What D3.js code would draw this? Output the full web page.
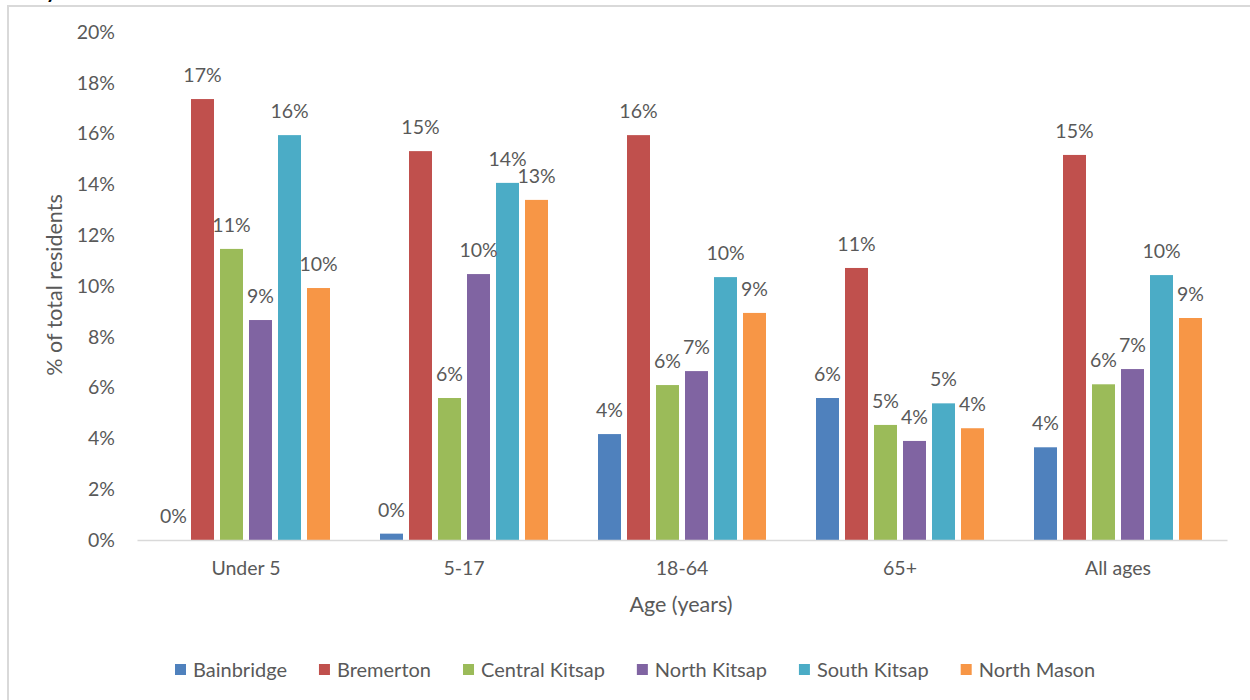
<!DOCTYPE html>
<html>
<head>
<meta charset="utf-8">
<script src="https://cdn.jsdelivr.net/npm/d3@7"></script>
<style>
  html, body { margin: 0; padding: 0; background: #fff; }
  svg { display: block; }
  text { font-family: Lato, "Open Sans", sans-serif; fill: #595959; }
</style>
</head>
<body>
<svg id="chart" width="1250" height="700"></svg>
<script>
const categories = ["Under 5", "5-17", "18-64", "65+", "All ages"];
const seriesNames = ["Bainbridge", "Bremerton", "Central Kitsap", "North Kitsap", "South Kitsap", "North Mason"];
const seriesColors = ["#4F81BD", "#C0504D", "#9BBB59", "#8064A2", "#4BACC6", "#F79646"];
// values in percent, per series, in category order
const bainbridge    = [0.0, 0.25, 4.17, 5.59, 3.65];
const bremerton     = [17.36, 15.31, 15.94, 10.71, 15.16];
const centralKitsap = [11.46, 5.59, 6.10, 4.53, 6.13];
const northKitsap   = [8.66, 10.47, 6.65, 3.90, 6.73];
const southKitsap   = [15.94, 14.06, 10.35, 5.38, 10.43];
const northMason    = [9.92, 13.39, 8.94, 4.40, 8.74];
const yTicks = [0, 2, 4, 6, 8, 10, 12, 14, 16, 18, 20];

const seriesValues = [bainbridge, bremerton, centralKitsap, northKitsap, southKitsap, northMason];

const FS = "19.5px";
const LFS = "20px";
const TFS = "21.5px";

const svg = d3.select("#chart");

// outer chart border
svg.append("rect")
  .attr("x", 8).attr("y", 6).attr("width", 1260).attr("height", 710)
  .attr("fill", "none").attr("stroke", "#d9d9d9").attr("stroke-width", 2);

// cut-off title fragment at top (as in the reference)
svg.append("text").attr("x", 46).attr("y", -2)
  .style("fill", "#000").style("font-weight", "bold").style("font-size", "20px")
  .text("y");

const x0 = d3.scaleBand().domain(categories).range([137, 1227]).padding(0);
const x1 = d3.scaleBand().domain(seriesNames).range([25, 193]).paddingInner(0.207).paddingOuter(0);
const y = d3.scaleLinear().domain([0, 20]).range([540, 32]);

// y axis labels
const yAxis = d3.axisLeft(y).tickValues(yTicks).tickFormat(d => d + "%").tickSize(0).tickPadding(0);
const yg = svg.append("g").attr("transform", "translate(115,0)").call(yAxis);
yg.select(".domain").remove();
yg.selectAll("text").style("font-size", FS).style("fill", "#595959").style("font-family", "Lato, sans-serif");

// bars
const groups = svg.append("g").selectAll("g")
  .data(categories)
  .join("g")
  .attr("transform", d => `translate(${x0(d)},0)`);

groups.selectAll("rect")
  .data((c, ci) => seriesNames.map((s, si) => ({ s, si, v: seriesValues[si][ci] })))
  .join("rect")
  .attr("x", d => x1(d.s))
  .attr("width", x1.bandwidth())
  .attr("y", d => y(d.v))
  .attr("height", d => y(0) - y(d.v))
  .attr("fill", d => seriesColors[d.si]);

groups.selectAll("text.lbl")
  .data((c, ci) => seriesNames.map((s, si) => ({ s, si, v: seriesValues[si][ci] })))
  .join("text")
  .attr("class", "lbl")
  .attr("x", d => x1(d.s) + x1.bandwidth() / 2)
  .attr("y", d => y(d.v) - 17)
  .attr("text-anchor", "middle")
  .style("font-size", FS)
  .text(d => Math.round(d.v) + "%");

// x axis
const xAxis = d3.axisBottom(x0).tickSize(0).tickPadding(0);
const xg = svg.append("g").attr("transform", "translate(0,540)").call(xAxis);
xg.select(".domain").attr("stroke", "#d9d9d9").attr("stroke-width", 1.5);
xg.selectAll("text").attr("dy", null).attr("y", 35).style("font-size", FS).style("fill", "#595959").style("font-family", "Lato, sans-serif");

// axis titles
svg.append("text")
  .attr("x", 681).attr("y", 612)
  .attr("text-anchor", "middle")
  .style("font-size", TFS)
  .text("Age (years)");

svg.append("text")
  .attr("transform", "translate(62,285) rotate(-90)")
  .attr("text-anchor", "middle")
  .style("font-size", TFS)
  .text("% of total residents");

// legend
const legend = svg.append("g").attr("transform", "translate(175,0)");
let lx = 0;
seriesNames.forEach((s, i) => {
  const g = legend.append("g").attr("transform", `translate(${lx},0)`);
  g.append("rect").attr("x", 0).attr("y", 664).attr("width", 11).attr("height", 11).attr("fill", seriesColors[i]);
  const t = g.append("text").attr("x", 18).attr("y", 677).style("font-size", LFS).text(s);
  const w = t.node().getComputedTextLength();
  lx += 18 + w + 32;
});
</script>
</body>
</html>
